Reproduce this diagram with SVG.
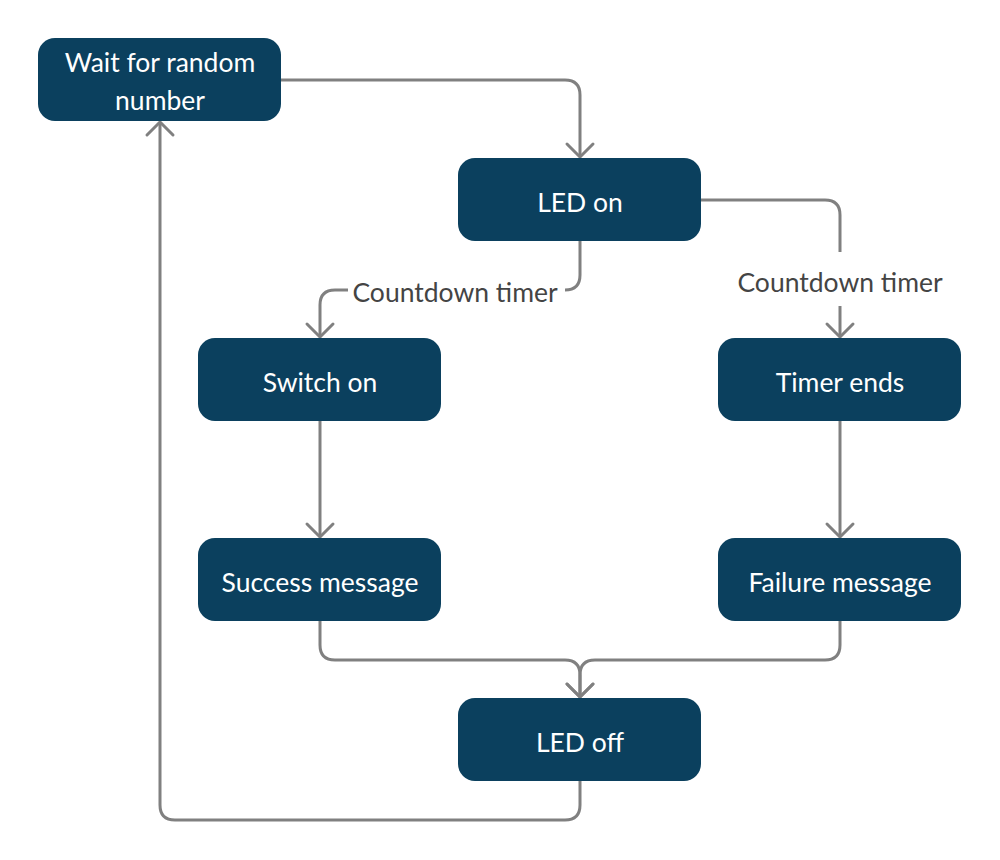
<svg xmlns="http://www.w3.org/2000/svg" width="1000" height="860" viewBox="0 0 1000 860">
<defs>
<marker id="arr" viewBox="0 0 32 32" refX="16" refY="16" markerWidth="32" markerHeight="32" markerUnits="userSpaceOnUse" orient="auto">
<path d="M3,3 L16,16 L3,29" fill="none" stroke="#808080" stroke-width="3" stroke-linecap="round" stroke-linejoin="round"/>
</marker>
<style>
.node rect{fill:#0b405e;}
.node text{fill:#ffffff;font-family:Lato,"Open Sans",sans-serif;font-size:26.5px;text-anchor:middle;}
.edge{fill:none;stroke:#808080;stroke-width:3;}
.lbl{fill:#444444;font-family:Lato,"Open Sans",sans-serif;font-size:26.5px;text-anchor:middle;}
</style>
</defs>
<rect width="1000" height="860" fill="#ffffff"/>
<g id="connectors">
<path class="edge" d="M281,80 H565 Q580,80 580,95 V157" marker-end="url(#arr)"/>
<path class="edge" d="M580,241 V275 Q580,290 565,290"/>
<path class="edge" d="M348,290 H335 Q320,290 320,305 V337" marker-end="url(#arr)"/>
<path class="edge" d="M701,200 H825 Q840,200 840,215 V252"/>
<path class="edge" d="M840,306 V337" marker-end="url(#arr)"/>
<path class="edge" d="M320,421 V537" marker-end="url(#arr)"/>
<path class="edge" d="M840,421 V537" marker-end="url(#arr)"/>
<path class="edge" d="M320,621 V645 Q320,660 335,660 H565 Q580,660 580,675 V697" marker-end="url(#arr)"/>
<path class="edge" d="M840,621 V645 Q840,660 825,660 H595 Q580,660 580,675 V697" marker-end="url(#arr)"/>
<path class="edge" d="M580,781 V805 Q580,820 565,820 H175 Q160,820 160,805 V122" marker-end="url(#arr)"/>
<text class="lbl" x="455" y="302">Countdown timer</text>
<text class="lbl" x="840" y="292">Countdown timer</text>
</g>
<g id="wait" class="node"><rect x="38" y="38" width="243" height="83" rx="17"/><text x="160" y="72">Wait for random</text><text x="160" y="110">number</text></g>
<g id="ledon" class="node"><rect x="458" y="158" width="243" height="83" rx="17"/><text x="580" y="212">LED on</text></g>
<g id="switchon" class="node"><rect x="198" y="338" width="243" height="83" rx="17"/><text x="320" y="392">Switch on</text></g>
<g id="timerends" class="node"><rect x="718" y="338" width="243" height="83" rx="17"/><text x="840" y="392">Timer ends</text></g>
<g id="success" class="node"><rect x="198" y="538" width="243" height="83" rx="17"/><text x="320" y="592">Success message</text></g>
<g id="failure" class="node"><rect x="718" y="538" width="243" height="83" rx="17"/><text x="840" y="592">Failure message</text></g>
<g id="ledoff" class="node"><rect x="458" y="698" width="243" height="83" rx="17"/><text x="580" y="752">LED off</text></g>
</svg>
